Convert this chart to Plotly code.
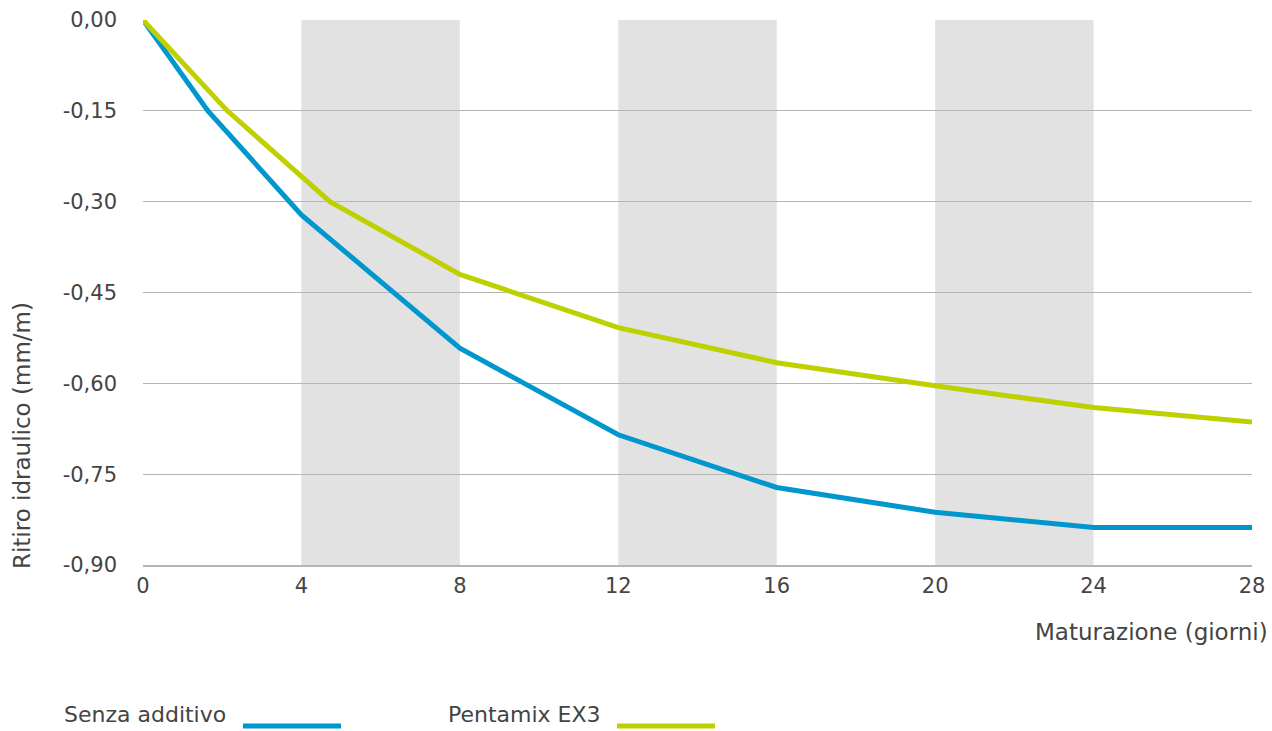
import plotly.graph_objects as go

# Data
days_senza = [0, 1.64, 4, 8, 12, 16, 20, 24, 28]
senza_additivo = [0.0, -0.15, -0.322, -0.542, -0.685, -0.772, -0.813, -0.838, -0.838]
days_pentamix = [0, 2.13, 4.72, 8, 12, 16, 20, 24, 28]
pentamix_ex3 = [0.0, -0.15, -0.30, -0.420, -0.508, -0.566, -0.604, -0.640, -0.664]

x_ticks = [0, 4, 8, 12, 16, 20, 24, 28]
y_ticks = [0.0, -0.15, -0.30, -0.45, -0.60, -0.75, -0.90]
y_tick_labels = ["0,00", "-0,15", "-0,30", "-0,45", "-0,60", "-0,75", "-0,90"]
bands = [(4, 8), (12, 16), (20, 24)]

series_names = ["Senza additivo", "Pentamix EX3"]
colors = ["#0096CE", "#BFD000"]

FONT = "DejaVu Sans"
TXT = "#444444"
TICK_SIZE = 21
TEXT_SIZE = 23

fig = go.Figure()
fig.add_trace(go.Scatter(x=days_senza, y=senza_additivo, mode="lines", name=series_names[0],
                         line=dict(color=colors[0], width=5), showlegend=False))
fig.add_trace(go.Scatter(x=days_pentamix, y=pentamix_ex3, mode="lines", name=series_names[1],
                         line=dict(color=colors[1], width=5), showlegend=False))

for a, b in bands:
    fig.add_vrect(x0=a, x1=b, fillcolor="#E2E2E2", line_width=0, layer="below")

fig.update_layout(
    width=1272, height=731,
    margin=dict(l=143, r=20, t=20, b=166, autoexpand=False),
    paper_bgcolor="white", plot_bgcolor="white",
    font=dict(family=FONT, size=TEXT_SIZE, color=TXT),
    xaxis=dict(range=[0, 28], tickvals=x_ticks, showgrid=False, zeroline=False,
               showline=True, linecolor="#B5B5B5", linewidth=1.5, automargin=False,
               ticks="", ticklabelstandoff=1, tickfont=dict(size=TICK_SIZE, color=TXT)),
    yaxis=dict(range=[-0.9, 0.0], tickvals=y_ticks, ticktext=y_tick_labels,
               showgrid=True, gridcolor="#B5B5B5", gridwidth=1, zeroline=False,
               showline=False, ticks="", ticklabelstandoff=25, automargin=False,
               tickfont=dict(size=TICK_SIZE, color=TXT)),
)

# axis titles
fig.add_annotation(text="Ritiro idraulico (mm/m)", xref="paper", yref="paper",
                   x=(22 - 143) / 1109, y=-0.012, xanchor="center", yanchor="bottom", textangle=-90,
                   showarrow=False, font=dict(size=TEXT_SIZE, color=TXT))
fig.add_annotation(text="Maturazione (giorni)", xref="paper", yref="paper",
                   x=(1270 - 143) / 1109, y=(565 - 632) / 545, xanchor="right", yanchor="middle",
                   showarrow=False, font=dict(size=TEXT_SIZE, color=TXT))

# custom legend (text followed by line sample)
legend_text_x = [62, 446]
legend_line_x = [(243, 341), (617, 715)]
for name, col, tx, (l0, l1) in zip(series_names, colors, legend_text_x, legend_line_x):
    fig.add_annotation(text=name, xref="paper", yref="paper",
                       x=(tx - 143) / 1109, y=(565 - 729) / 545,
                       xanchor="left", yanchor="bottom", showarrow=False,
                       font=dict(size=22, color=TXT))
    fig.add_shape(type="line", xref="paper", yref="paper",
                  x0=(l0 - 143) / 1109, x1=(l1 - 143) / 1109,
                  y0=(565 - 726) / 545, y1=(565 - 726) / 545,
                  line=dict(color=col, width=5))

fig.write_html("out.html", config={"displayModeBar": False},
               post_script="document.body.style.margin='0';")
